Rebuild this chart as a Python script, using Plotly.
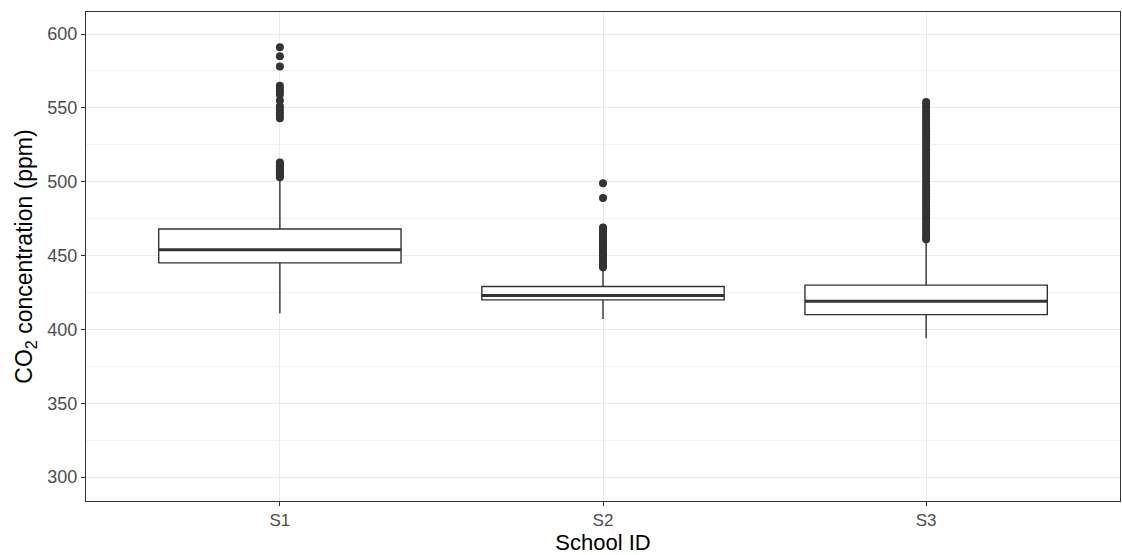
import plotly.graph_objects as go

schools = ["S1", "S2", "S3"]
q1 = [445, 420, 410]
median = [454, 423, 419]
q3 = [468, 429, 430]
lower_whisker = [411, 407, 394]
upper_whisker = [501, 440, 459]

outliers_s1 = [591, 585, 578, 565, 563, 561, 559, 555, 551, 549, 547, 545, 543,
               513, 512, 511, 510, 509, 508, 507, 506, 505, 504, 503]
outliers_s2 = [499, 489, 469, 468, 467, 466, 465, 464, 463, 462, 461, 460, 459, 458,
               457, 456, 455, 454, 453, 452, 451, 450, 449, 448, 447, 446, 445, 444, 443, 442]
outliers_s3 = [554, 552, 550, 548, 546, 544, 542, 540, 538, 536, 534, 532, 530, 528,
               526, 524, 522, 520, 518, 516, 514, 512, 510, 508, 506, 504, 502, 500,
               498, 496, 494, 492, 490, 488, 486, 484, 482, 480, 478, 476, 474, 472,
               470, 468, 466, 464, 462, 461]
outliers = [outliers_s1, outliers_s2, outliers_s3]

y_ticks = [300, 350, 400, 450, 500, 550, 600]

DARK = "#333333"
BOX_W = 0.75

fig = go.Figure()
for i, s in enumerate(schools):
    xpos = i + 1
    fig.add_trace(go.Box(
        x=[xpos], q1=[q1[i]], median=[median[i]], q3=[q3[i]],
        lowerfence=[lower_whisker[i]], upperfence=[upper_whisker[i]],
        width=BOX_W, whiskerwidth=0, boxpoints=False,
        fillcolor="white", line=dict(color=DARK, width=1.4),
        name=s, showlegend=False, hoverinfo="skip",
    ))
    fig.add_trace(go.Scatter(
        x=[xpos - BOX_W / 2, xpos + BOX_W / 2], y=[median[i], median[i]],
        mode="lines", line=dict(color=DARK, width=3),
        showlegend=False, hoverinfo="skip",
    ))
    fig.add_trace(go.Scatter(
        x=[xpos] * len(outliers[i]), y=outliers[i], mode="markers",
        marker=dict(color=DARK, size=8, line=dict(width=0)),
        showlegend=False,
    ))

fig.update_layout(
    width=1122, height=555,
    margin=dict(l=86, r=2, t=12, b=54),
    plot_bgcolor="white", paper_bgcolor="white",
    font=dict(family="Liberation Sans, Arial, sans-serif"),
    showlegend=False,
)
fig.update_xaxes(
    range=[0.4, 3.6], tickvals=[1, 2, 3], ticktext=schools,
    showgrid=True, gridcolor="#EBEBEB", gridwidth=1.2, zeroline=False,
    showline=True, linecolor=DARK, linewidth=1, mirror=True,
    ticks="outside", ticklen=4, tickcolor=DARK, tickwidth=1,
    tickfont=dict(size=17, color="#4D4D4D"),
    title=dict(text="School ID", font=dict(size=22, color="black"), standoff=5),
)
fig.update_yaxes(
    range=[283.8, 614.9], tickvals=y_ticks,
    showgrid=True, gridcolor="#EBEBEB", gridwidth=1.2, zeroline=False,
    minor=dict(tickvals=[325, 375, 425, 475, 525, 575], showgrid=True,
               gridcolor="#F3F3F3", gridwidth=1, ticks=""),
    showline=True, linecolor=DARK, linewidth=1, mirror=True,
    ticks="outside", ticklen=4, tickcolor=DARK, tickwidth=1,
    tickfont=dict(size=18, color="#4D4D4D"),
    title=dict(text="CO<sub>2</sub> concentration (ppm)", font=dict(size=23, color="black"), standoff=8),
)

fig.write_html("out.html")
